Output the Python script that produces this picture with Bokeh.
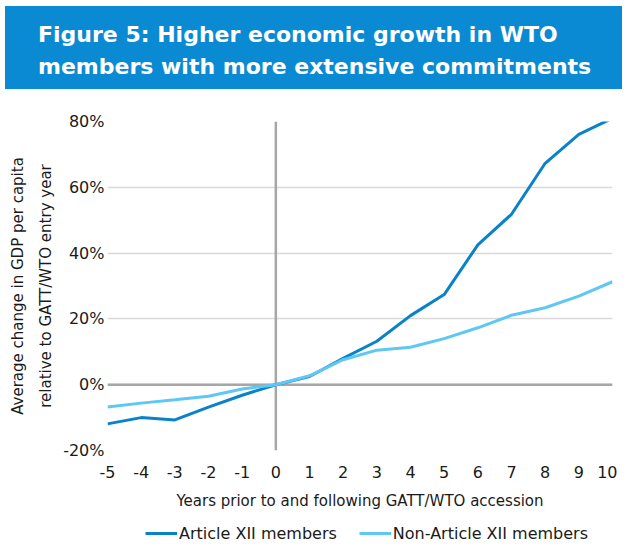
from bokeh.plotting import figure
from bokeh.models import Div, Legend, LegendItem, FixedTicker, Span, Range1d
from bokeh.layouts import column
from bokeh.embed import file_html
from bokeh.resources import INLINE

years = [-5, -4, -3, -2, -1, 0, 1, 2, 3, 4, 5, 6, 7, 8, 9, 10]
article_xii = [-11.9, -10.0, -10.7, -6.8, -3.2, 0.0, 2.5, 8.0, 13.2, 21.0, 27.4, 42.5, 51.8, 67.3, 76.1, 81.0]
non_article_xii = [-6.8, -5.6, -4.6, -3.5, -1.3, 0.0, 2.7, 7.6, 10.5, 11.4, 14.0, 17.3, 21.1, 23.4, 26.9, 31.3]
y_ticks = [-20, 0, 20, 40, 60, 80]
series_names = ["Article XII members", "Non-Article XII members"]
series_colors = ["#0a82c9", "#5fc7f3"]

title_text = "Figure 5: Higher economic growth in WTO<br>members with more extensive commitments"
FONT = "DejaVu Sans"

banner = Div(
    text=('<div style="background:#0a8ad2;color:#ffffff;font-family:\'DejaVu Sans\';'
          'font-weight:bold;font-size:22px;line-height:32px;width:617px;height:83px;'
          'box-sizing:border-box;padding:13px 0 0 33px;margin-top:1px;">'
          + title_text + '</div>'),
    width=617, height=84,
)

p = figure(width=617, height=423, x_range=(-5, 10), y_range=(-20, 80),
           output_backend="svg", toolbar_location=None,
           min_border_left=107, min_border_right=5, min_border_top=27, min_border_bottom=67)
p.outline_line_color = None
p.background_fill_color = "white"

p.line(years, article_xii, line_color=series_colors[0], line_width=3)
p.line(years, non_article_xii, line_color=series_colors[1], line_width=3)

p.add_layout(Span(location=0, dimension="width", line_color="#a6a6a6", line_width=2.5, level="underlay"))
p.add_layout(Span(location=0, dimension="height", line_color="#a6a6a6", line_width=2.5, level="underlay"))

p.xgrid.visible = False
p.ygrid.grid_line_color = "#d9d9d9"
p.ygrid.grid_line_width = 1.5
p.ygrid.ticker = FixedTicker(ticks=y_ticks)

p.xaxis.ticker = FixedTicker(ticks=years)
p.xaxis.major_label_overrides = {y: str(y) for y in years}
p.yaxis.ticker = FixedTicker(ticks=y_ticks)
p.yaxis.major_label_overrides = {t: f"{t}%" for t in y_ticks}

for ax in (p.xaxis[0], p.yaxis[0]):
    ax.axis_line_color = None
    ax.major_tick_line_color = None
    ax.minor_tick_line_color = None
    ax.major_tick_out = 0
    ax.major_label_text_font = FONT
    ax.major_label_text_font_size = "16px"
    ax.major_label_text_color = "#1a1a1a"
    ax.axis_label_text_font = FONT
    ax.axis_label_text_font_size = "15px"
    ax.axis_label_text_font_style = "normal"
    ax.axis_label_text_color = "#1a1a1a"

p.xaxis.major_label_standoff = 15
p.xaxis.axis_label = "Years prior to and following GATT/WTO accession"
p.xaxis.axis_label_standoff = 11
p.yaxis.major_label_standoff = 3
p.yaxis.axis_label = "Average change in GDP per capita\nrelative to GATT/WTO entry year"
p.yaxis.axis_label_standoff = 5
p.yaxis.axis_label_text_line_height = 1.55

# legend strip: a small figure (frame aligned with the chart's) holding the legend keys
lg = figure(width=617, height=26, x_range=Range1d(100, 101), y_range=Range1d(100, 101),
            output_backend="svg", toolbar_location=None,
            min_border_left=107, min_border_right=5, min_border_top=0, min_border_bottom=0)
lg.axis.visible = False
lg.grid.visible = False
lg.outline_line_color = None
keys = [lg.line(years, vals, line_color=c, line_width=3)
        for vals, c in zip([article_xii, non_article_xii], series_colors)]
legend = Legend(items=[LegendItem(label=n, renderers=[r]) for n, r in zip(series_names, keys)],
                orientation="horizontal", location=(38, 0),
                border_line_color=None, background_fill_alpha=0,
                label_text_font=FONT, label_text_font_size="16px", label_text_color="#1a1a1a",
                glyph_width=32, label_standoff=2, spacing=22, padding=0, margin=0)
lg.add_layout(legend, "center")

layout = column(banner, p, lg, spacing=0)
open("out.html", "w").write(file_html(layout, INLINE))
